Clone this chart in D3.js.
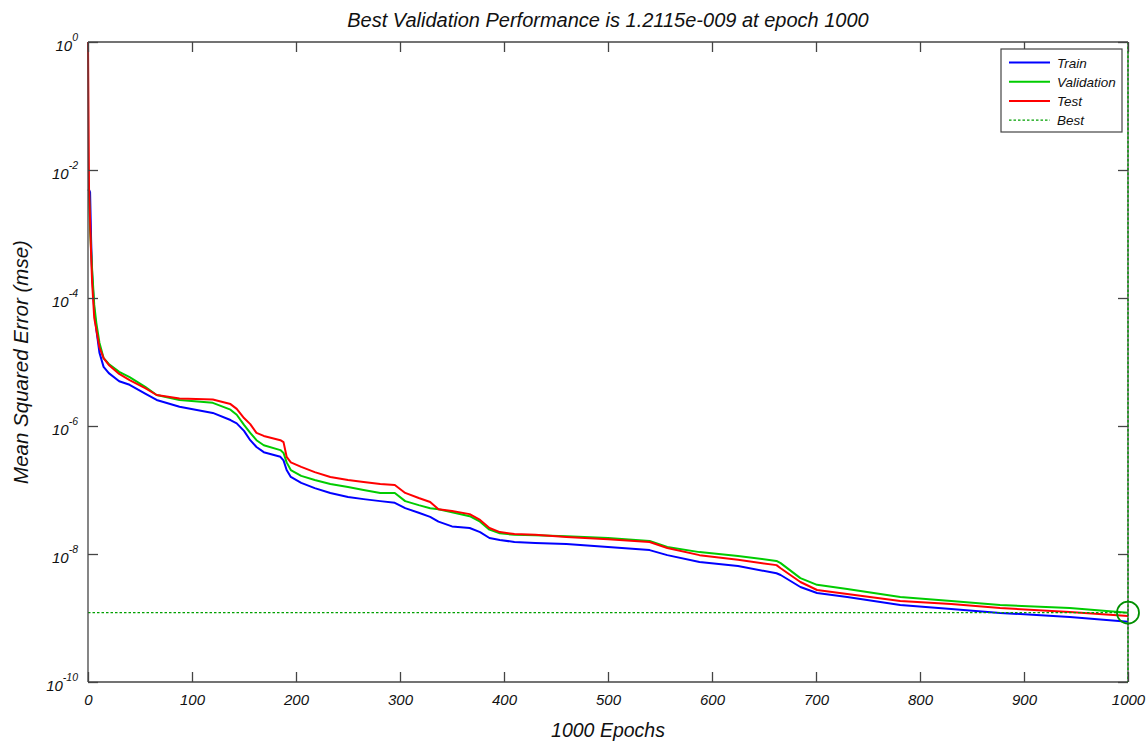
<!DOCTYPE html>
<html>
<head>
<meta charset="utf-8">
<script src="https://cdn.jsdelivr.net/npm/d3@7"></script>
<style>
  body { margin: 0; background: #fff; }
  text { font-family: "Liberation Sans", Arial, sans-serif; font-style: italic; fill: #111; }
</style>
</head>
<body>
<div id="chart-container"></div>
<script>
// Data
const epochs = [0, 1, 2, 3, 4, 6, 8, 11, 15, 20, 30, 40, 55, 66, 88, 120, 137, 143, 150, 156,
  162, 169, 185, 188, 191, 195, 205, 218, 233, 250, 265, 281, 295, 305, 318, 329, 337, 350, 367, 377,
  386, 396, 410, 430, 460, 500, 540, 557, 588, 625, 662, 666, 685, 701, 730, 781, 830, 877, 944, 1000];

const trainMse = [5.0e-3, 4.9e-3, 4.5e-3, 8.1e-4, 2.3e-4, 6.5e-5, 3.2e-5, 1.4e-5, 8.4e-6, 6.7e-6,
  5.0e-6, 4.4e-6, 3.2e-6, 2.55e-6, 2.0e-6, 1.6e-6, 1.24e-6, 1.1e-6, 8.4e-7, 6.0e-7,
  4.7e-7, 3.9e-7, 3.3e-7, 2.9e-7, 2.05e-7, 1.6e-7, 1.29e-7, 1.07e-7, 9.0e-8, 7.8e-8,
  7.2e-8, 6.7e-8, 6.3e-8, 5.2e-8, 4.4e-8, 3.8e-8, 3.2e-8, 2.7e-8, 2.55e-8, 2.2e-8,
  1.78e-8, 1.66e-8, 1.54e-8, 1.49e-8, 1.43e-8, 1.29e-8, 1.15e-8, 9.6e-9, 7.5e-9, 6.5e-9,
  5.0e-9, 4.7e-9, 3.05e-9, 2.46e-9, 2.13e-9, 1.6e-9, 1.38e-9, 1.2e-9, 1.04e-9, 8.7e-10];

const validationMse = [5.0e-3, 4.9e-3, 1.15e-3, 5.6e-4, 2.7e-4, 7.8e-5, 4.1e-5, 2.0e-5, 1.15e-5, 9.3e-6,
  7.0e-6, 5.8e-6, 4.1e-6, 3.05e-6, 2.55e-6, 2.3e-6, 1.8e-6, 1.5e-6, 1.04e-6, 7.8e-7,
  6.0e-7, 5.0e-7, 4.2e-7, 3.8e-7, 2.7e-7, 2.05e-7, 1.66e-7, 1.43e-7, 1.24e-7, 1.11e-7,
  1.0e-7, 9.0e-8, 9.0e-8, 6.7e-8, 5.8e-8, 5.2e-8, 5.0e-8, 4.5e-8, 3.9e-8, 3.2e-8,
  2.4e-8, 2.1e-8, 2.0e-8, 1.96e-8, 1.9e-8, 1.78e-8, 1.6e-8, 1.29e-8, 1.07e-8, 9.3e-9,
  7.8e-9, 7.2e-9, 4.2e-9, 3.3e-9, 2.84e-9, 2.13e-9, 1.84e-9, 1.6e-9, 1.43e-9, 1.2115e-9];

const testMse = [1.0, 5.0e-3, 1.66e-3, 4.7e-4, 1.7e-4, 4.9e-5, 3.2e-5, 1.7e-5, 1.15e-5, 9.0e-6,
  6.5e-6, 5.2e-6, 3.9e-6, 3.05e-6, 2.7e-6, 2.6e-6, 2.2e-6, 1.85e-6, 1.33e-6, 1.07e-6,
  7.8e-7, 7.0e-7, 6.0e-7, 5.6e-7, 3.3e-7, 2.7e-7, 2.3e-7, 1.9e-7, 1.6e-7, 1.43e-7,
  1.33e-7, 1.24e-7, 1.2e-7, 9.0e-8, 7.5e-8, 6.5e-8, 5.0e-8, 4.7e-8, 4.2e-8, 3.4e-8,
  2.55e-8, 2.2e-8, 2.05e-8, 2.0e-8, 1.85e-8, 1.7e-8, 1.54e-8, 1.24e-8, 9.6e-9, 8.1e-9,
  6.7e-9, 6.0e-9, 3.65e-9, 2.74e-9, 2.37e-9, 1.84e-9, 1.66e-9, 1.43e-9, 1.24e-9, 1.07e-9];

const bestEpoch = 1000;
const bestMse = 1.2115e-9;

const xTicks = [0, 100, 200, 300, 400, 500, 600, 700, 800, 900, 1000];
const yTickExponents = [0, -2, -4, -6, -8, -10];

const seriesNames = ["Train", "Validation", "Test"];
const seriesColors = ["#0000ff", "#00cc00", "#ff0000"];
const seriesValues = [trainMse, validationMse, testMse];

// Set dimensions and margins for the chart
const margin = { top: 42, right: 20, bottom: 60, left: 88 };
const width = 1148 - margin.left - margin.right;
const height = 742 - margin.top - margin.bottom;
const axisColor = "#444";
const bestColor = "#00a000";

const x = d3.scaleLinear()
  .domain([0, 1000])
  .range([0, width]);

const y = d3.scaleLog()
  .domain([1e-10, 1])
  .range([height, 0]);

const svg = d3.select("#chart-container")
  .append("svg")
  .attr("width", width + margin.left + margin.right)
  .attr("height", height + margin.top + margin.bottom)
  .append("g")
  .attr("transform", `translate(${margin.left},${margin.top})`);

// Curves (train first so test ends up on top)
const line = d3.line()
  .x(d => x(d[0]))
  .y(d => y(d[1]));

seriesValues.forEach((vals, i) => {
  svg.append("path")
    .datum(epochs.map((e, j) => [e, vals[j]]))
    .attr("fill", "none")
    .attr("stroke", seriesColors[i])
    .attr("stroke-width", 2)
    .attr("stroke-linejoin", "round")
    .attr("d", line);
});

// Best lines
svg.append("line")
  .attr("x1", 0)
  .attr("x2", width)
  .attr("y1", y(bestMse))
  .attr("y2", y(bestMse))
  .attr("stroke", bestColor)
  .attr("stroke-width", 1.4)
  .attr("stroke-dasharray", "2.5,2");

// Box: left, top, bottom, right
const frame = svg.append("g").attr("stroke", axisColor).attr("stroke-width", 1.3);
frame.append("line").attr("x1", 0).attr("x2", 0).attr("y1", 0).attr("y2", height);
frame.append("line").attr("x1", 0).attr("x2", width).attr("y1", 0).attr("y2", 0);
frame.append("line").attr("x1", 0).attr("x2", width).attr("y1", height).attr("y2", height);
frame.append("line").attr("x1", width).attr("x2", width).attr("y1", 0).attr("y2", height);

svg.append("line")
  .attr("x1", x(bestEpoch))
  .attr("x2", x(bestEpoch))
  .attr("y1", 0)
  .attr("y2", height)
  .attr("stroke", bestColor)
  .attr("stroke-width", 1.4)
  .attr("stroke-dasharray", "2.5,2");

svg.append("circle")
  .attr("cx", x(bestEpoch))
  .attr("cy", y(bestMse))
  .attr("r", 11)
  .attr("fill", "none")
  .attr("stroke", "#009000")
  .attr("stroke-width", 1.8);

// x-axis (inward ticks)
svg.append("g")
  .attr("transform", `translate(0,${height})`)
  .style("font-size", "15px")
  .call(d3.axisBottom(x)
    .tickValues(xTicks)
    .tickSize(-10)
    .tickPadding(12)
    .tickFormat(d3.format("d")))
  .call(g => g.select(".domain").remove())
  .call(g => g.selectAll(".tick line").attr("stroke", axisColor).attr("stroke-width", 1.3))
  .call(g => g.selectAll(".tick text").attr("fill", "#111").style("font-family", "Liberation Sans, Arial, sans-serif").style("font-style", "italic"));

// top mirrored ticks
svg.append("g")
  .call(d3.axisTop(x).tickValues(xTicks).tickSize(-10).tickFormat(""))
  .call(g => g.select(".domain").remove())
  .call(g => g.selectAll(".tick line").attr("stroke", axisColor).attr("stroke-width", 1.3));

// y-axis (inward ticks, 10^n labels)
const yAxis = svg.append("g")
  .call(d3.axisLeft(y)
    .tickValues(yTickExponents.map(e => Math.pow(10, e)))
    .tickSize(-10)
    .tickFormat(""))
  .call(g => g.select(".domain").remove())
  .call(g => g.selectAll(".tick line").attr("stroke", axisColor).attr("stroke-width", 1.3));

yAxis.selectAll(".tick").each(function(d, i) {
  const t = d3.select(this).append("text")
    .attr("x", -10)
    .attr("y", 8)
    .attr("text-anchor", "end")
    .style("font-size", "15px");
  t.append("tspan").text("10");
  t.append("tspan")
    .attr("dy", -10)
    .style("font-size", "10.5px")
    .text(yTickExponents[i]);
});

// right mirrored ticks
svg.append("g")
  .attr("transform", `translate(${width},0)`)
  .call(d3.axisRight(y)
    .tickValues(yTickExponents.map(e => Math.pow(10, e)))
    .tickSize(-10)
    .tickFormat(""))
  .call(g => g.select(".domain").remove())
  .call(g => g.selectAll(".tick line").attr("stroke", axisColor).attr("stroke-width", 1.3));

// Title and axis labels
svg.append("text")
  .attr("x", width / 2)
  .attr("y", -15)
  .attr("text-anchor", "middle")
  .style("font-size", "20px")
  .text(`Best Validation Performance is 1.2115e-009 at epoch ${bestEpoch}`);

svg.append("text")
  .attr("x", width / 2)
  .attr("y", height + 55)
  .attr("text-anchor", "middle")
  .style("font-size", "19.5px")
  .text("1000 Epochs");

svg.append("text")
  .attr("transform", `translate(${-60},${height / 2}) rotate(-90)`)
  .attr("text-anchor", "middle")
  .style("font-size", "20.5px")
  .text("Mean Squared Error  (mse)");

// Legend
const legend = svg.append("g")
  .attr("transform", `translate(${1001 - margin.left},${49 - margin.top})`);

legend.append("rect")
  .attr("width", 121)
  .attr("height", 83)
  .attr("fill", "#fff")
  .attr("stroke", axisColor)
  .attr("stroke-width", 1.2);

const legendItems = seriesNames.map((n, i) => ({ name: n, color: seriesColors[i], dash: null }))
  .concat([{ name: "Best", color: bestColor, dash: "2.5,2" }]);

legendItems.forEach((item, i) => {
  const ly = 13.5 + i * 19.2;
  legend.append("line")
    .attr("x1", 8)
    .attr("x2", 49)
    .attr("y1", ly)
    .attr("y2", ly)
    .attr("stroke", item.color)
    .attr("stroke-width", item.dash ? 1.4 : 2)
    .attr("stroke-dasharray", item.dash);
  legend.append("text")
    .attr("x", 56)
    .attr("y", ly + 5)
    .style("font-size", "13.5px")
    .text(item.name);
});
</script>
</body>
</html>
